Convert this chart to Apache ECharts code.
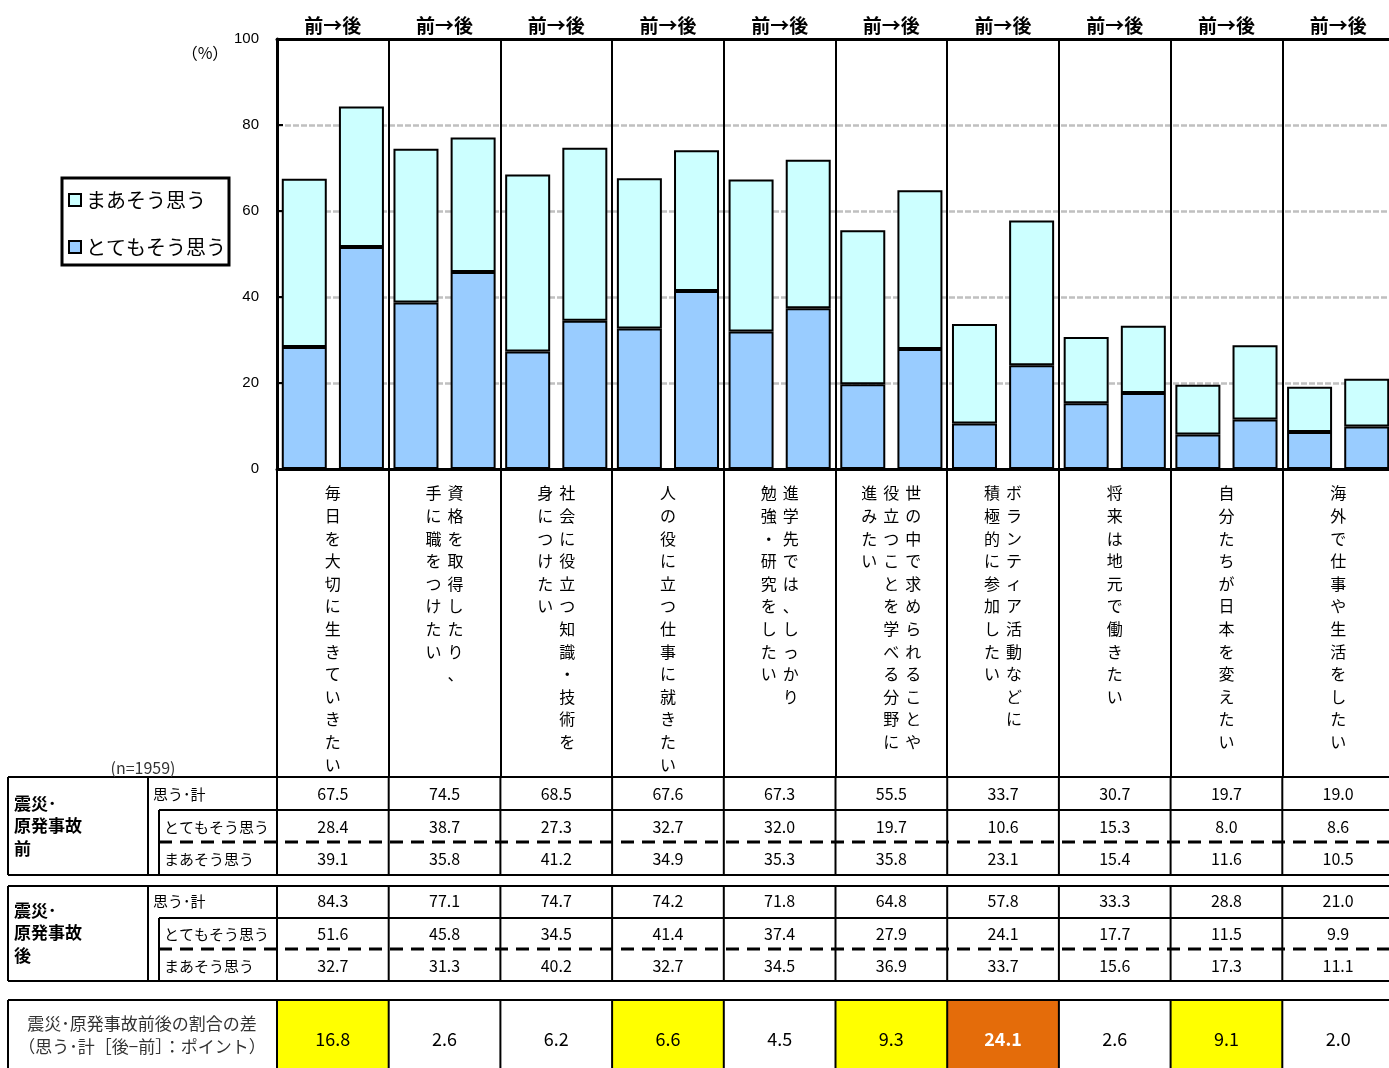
<!DOCTYPE html>
<html><head><meta charset="utf-8">
<script src="https://cdn.jsdelivr.net/npm/echarts@6/dist/echarts.min.js"></script>
<style>html,body{margin:0;padding:0;background:#fff}#c{width:1389px;height:1068px}</style>
</head><body><div id="c"></div>
<script>
// ---------------- data ----------------
const categories = [
  '毎日を大切に生きていきたい',
  '資格を取得したり、手に職をつけたい',
  '社会に役立つ知識・技術を身につけたい',
  '人の役に立つ仕事に就きたい',
  '進学先では、しっかり勉強・研究をしたい',
  '世の中で求められることや役立つことを学べる分野に進みたい',
  'ボランティア活動などに積極的に参加したい',
  '将来は地元で働きたい',
  '自分たちが日本を変えたい',
  '海外で仕事や生活をしたい'
];
// vertical label columns, read right-to-left
const categoryColumns = [
  ['毎日を大切に生きていきたい'],
  ['資格を取得したり、', '手に職をつけたい'],
  ['社会に役立つ知識・技術を', '身につけたい'],
  ['人の役に立つ仕事に就きたい'],
  ['進学先では、しっかり', '勉強・研究をしたい'],
  ['世の中で求められることや', '役立つことを学べる分野に', '進みたい'],
  ['ボランティア活動などに', '積極的に参加したい'],
  ['将来は地元で働きたい'],
  ['自分たちが日本を変えたい'],
  ['海外で仕事や生活をしたい']
];
const headerLabel = '前→後';
const beforeTotal = [67.5, 74.5, 68.5, 67.6, 67.3, 55.5, 33.7, 30.7, 19.7, 19.0];
const beforeVery  = [28.4, 38.7, 27.3, 32.7, 32.0, 19.7, 10.6, 15.3, 8.0, 8.6];
const beforeSome  = [39.1, 35.8, 41.2, 34.9, 35.3, 35.8, 23.1, 15.4, 11.6, 10.5];
const afterTotal  = [84.3, 77.1, 74.7, 74.2, 71.8, 64.8, 57.8, 33.3, 28.8, 21.0];
const afterVery   = [51.6, 45.8, 34.5, 41.4, 37.4, 27.9, 24.1, 17.7, 11.5, 9.9];
const afterSome   = [32.7, 31.3, 40.2, 32.7, 34.5, 36.9, 33.7, 15.6, 17.3, 11.1];
const diffPoints  = [16.8, 2.6, 6.2, 6.6, 4.5, 9.3, 24.1, 2.6, 9.1, 2.0];
const diffHighlight = [1, 0, 0, 1, 0, 1, 2, 0, 1, 0]; // 0 none, 1 highlighted, 2 strongest
const seriesVery = 'とてもそう思う';
const seriesSome = 'まあそう思う';
const rowLabels = ['思う･計', 'とてもそう思う', 'まあそう思う'];
const groupLabels = ['震災･\n原発事故\n前', '震災･\n原発事故\n後'];
const diffLabel = '震災･原発事故前後の割合の差\n（思う･計［後−前］：ポイント）';
const sampleLabel = '(n=1959)';
const unitLabel = '（%）';
const yMin = 0, yMax = 100, yStep = 20;

// ---------------- chart ----------------
const F = "'Noto Sans CJK JP', 'Noto Sans', sans-serif";
const chart = echarts.init(document.getElementById('c'), null, {renderer: 'canvas'});

function verticalRich(cols) {
  const ltr = cols.slice().reverse().map(s => Array.from(s));
  const n = Math.max(...ltr.map(a => a.length));
  const rows = [];
  for (let r = 0; r < n; r++) rows.push(ltr.map(a => '{c|' + (a[r] || '　') + '}').join(''));
  return rows.join('\n');
}

const barBase = {type: 'bar', barWidth: 45, barGap: '27%',
  itemStyle: {borderColor: '#000', borderWidth: 2}};
const colVery = '#99CCFF', colSome = '#CCFFFF';

const option = {
  animation: false,
  backgroundColor: '#fff',
  textStyle: {fontFamily: F},
  grid: {left: 277, top: 39, width: 1117, height: 430, outerBoundsMode: 'none', containLabel: false},
  legend: {
    data: [seriesSome, seriesVery], orient: 'vertical', left: 62, top: 178,
    itemWidth: 12, itemHeight: 12, itemGap: 27, padding: [12, 3, 8, 6],
    borderColor: '#000', borderWidth: 3, backgroundColor: '#fff', selectedMode: false,
    icon: 'rect', itemStyle: {borderColor: '#000', borderWidth: 2},
    textStyle: {fontSize: 20, color: '#000', fontFamily: F}
  },
  xAxis: [{
    type: 'category', data: categories, position: 'bottom',
    axisLine: {show: true, lineStyle: {color: '#000', width: 3}},
    axisTick: {show: true, interval: 0, length: 308, lineStyle: {color: '#000', width: 2}},
    splitLine: {show: true, interval: 0, lineStyle: {color: '#000', width: 2}},
    axisLabel: {
      interval: 0, margin: 13, verticalAlign: 'top',
      formatter: (v, i) => verticalRich(categoryColumns[i]),
      rich: {c: {width: 22, align: 'center', fontSize: 16, lineHeight: 22.6, fontFamily: F, color: '#000'}}
    }
  }, {
    type: 'category', data: categories, position: 'top',
    axisLine: {show: true, lineStyle: {color: '#000', width: 3}},
    axisTick: {show: false}, splitLine: {show: false},
    axisLabel: {interval: 0, margin: 4, formatter: () => headerLabel, fontSize: 19, fontWeight: 'bold', color: '#000', fontFamily: F}
  }],
  yAxis: {
    type: 'value', min: yMin, max: yMax, interval: yStep,
    axisLine: {show: true, lineStyle: {color: '#000', width: 3}},
    axisTick: {show: true, inside: true, length: 6, lineStyle: {color: '#000', width: 2}},
    axisLabel: {margin: 18, fontSize: 15, color: '#000', fontFamily: "'Liberation Sans', Arial, sans-serif"},
    splitLine: {show: true, lineStyle: {color: '#c0c0c0', width: 2.5, type: [6, 2]}}
  },
  series: [
    Object.assign({}, barBase, {name: seriesVery, stack: 'before', data: beforeVery, itemStyle: Object.assign({}, barBase.itemStyle, {color: colVery})}),
    Object.assign({}, barBase, {name: seriesSome, stack: 'before', data: beforeSome, itemStyle: Object.assign({}, barBase.itemStyle, {color: colSome})}),
    Object.assign({}, barBase, {name: seriesVery, stack: 'after', data: afterVery, itemStyle: Object.assign({}, barBase.itemStyle, {color: colVery})}),
    Object.assign({}, barBase, {name: seriesSome, stack: 'after', data: afterSome, itemStyle: Object.assign({}, barBase.itemStyle, {color: colSome})})
  ]
};
chart.setOption(option);

// ---------------- table (positioned from the category axis) ----------------
const centers = categories.map((_, i) => chart.convertToPixel({xAxisIndex: 0}, i));
const band = centers[1] - centers[0];
const bounds = centers.map(c => c - band / 2).concat([centers[centers.length - 1] + band / 2]);
const xR = bounds[bounds.length - 1];

const g = [];
const line = (x1, y1, x2, y2, w, dash) => g.push({type: 'line', silent: true, z: 10,
  shape: {x1, y1, x2, y2}, style: {stroke: '#000', lineWidth: w || 2, lineDash: dash || null}});
const text = (x, y, t, o) => g.push({type: 'text', silent: true, z: 11, x, y,
  style: Object.assign({text: t, fill: '#000', fontSize: 16, fontFamily: F, align: 'center', verticalAlign: 'middle'}, o || {})});

const L = {left: 8, groupDiv: 148, subDiv: 159, rowX1: 153, rowX2: 164};
const tables = [
  {top: 777, r1: 810, dash: 842, bottom: 875, rows: [794, 827, 859], groupY: 826, data: [beforeTotal, beforeVery, beforeSome]},
  {top: 886, r1: 918, dash: 949, bottom: 981, rows: [901, 934, 966], groupY: 933, data: [afterTotal, afterVery, afterSome]}
];
tables.forEach((T, ti) => {
  line(L.left, T.top, xR, T.top);
  line(L.left, T.bottom, xR, T.bottom);
  line(L.subDiv, T.r1, xR, T.r1);
  line(L.subDiv, T.dash, xR, T.dash, 3, [13, 8]);
  line(L.left, T.top, L.left, T.bottom);
  line(L.groupDiv, T.top, L.groupDiv, T.bottom);
  line(L.subDiv, T.r1, L.subDiv, T.bottom);
  bounds.forEach(b => line(b, T.top, b, T.bottom));
  text(14, T.groupY, groupLabels[ti], {align: 'left', fontWeight: 'bold', fontSize: 17, lineHeight: 22.5});
  rowLabels.forEach((lab, r) => text(r === 0 ? L.rowX1 : L.rowX2, T.rows[r], lab, {align: 'left', fontSize: 15}));
  T.data.forEach((arr, r) => arr.forEach((v, i) => text(centers[i], T.rows[r], v.toFixed(1))));
});

// difference row
const D = {top: 1000, bottom: 1070, textY: 1039};
diffHighlight.forEach((h, i) => {
  if (h) g.push({type: 'rect', silent: true, z: 9,
    shape: {x: bounds[i], y: D.top, width: band, height: D.bottom - D.top},
    style: {fill: h === 2 ? '#E46C0A' : '#FFFF00'}});
});
line(L.left, D.top, xR, D.top);
line(L.left, D.top, L.left, D.bottom);
bounds.forEach(b => line(b, D.top, b, D.bottom));
text(142, 1035.5, diffLabel, {fontSize: 17, lineHeight: 23, fill: '#333'});
diffPoints.forEach((v, i) => text(centers[i], D.textY, v.toFixed(1), {
  fontSize: 18, fill: diffHighlight[i] === 2 ? '#fff' : '#000', fontWeight: diffHighlight[i] === 2 ? 'bold' : 'normal'}));

text(205, 53, unitLabel, {fontSize: 16, fill: '#000'});
text(143, 768, sampleLabel, {fontSize: 16, fill: '#333'});

chart.setOption({graphic: {elements: g}});
</script>
</body></html>
